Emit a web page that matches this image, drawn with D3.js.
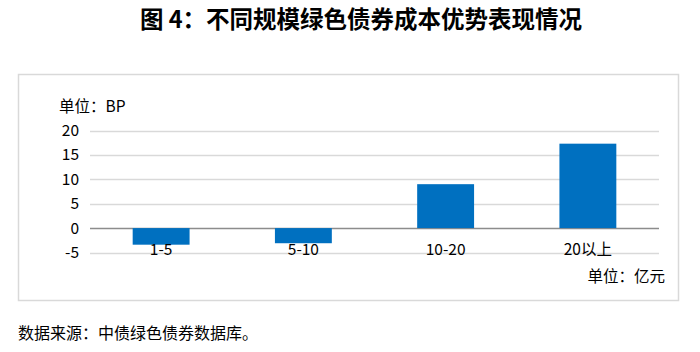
<!DOCTYPE html>
<html>
<head>
<meta charset="utf-8">
<script src="https://cdn.jsdelivr.net/npm/d3@7"></script>
<style>
  body { margin: 0; background: #fff; }
  text { font-family: "Noto Sans CJK SC", "Noto Sans", sans-serif; fill: #000; }
</style>
</head>
<body>
<svg id="chart" width="700" height="352"></svg>
<script>
// chart data
const categories = ["1-5", "5-10", "10-20", "20以上"];
const values = [-3.4, -3.1, 9.0, 17.3];
const yTicks = [-5, 0, 5, 10, 15, 20];

const title = "图 4：不同规模绿色债券成本优势表现情况";
const yUnit = "单位：BP";
const xUnit = "单位：亿元";
const source = "数据来源：中债绿色债券数据库。";

function translate(x, y) {
  return "translate(" + x + "," + y + ")";
}

const svg = d3.select("#chart");

svg.append("text")
  .attr("x", 361)
  .attr("y", 28)
  .attr("text-anchor", "middle")
  .style("font-size", "23.5px")
  .style("font-weight", "bold")
  .text(title);

// outer frame
svg.append("rect")
  .attr("x", 18.5)
  .attr("y", 74.5)
  .attr("width", 660)
  .attr("height", 226)
  .attr("fill", "none")
  .attr("stroke", "#d9d9d9")
  .attr("stroke-width", 1.5);

let left = 90, right = 659;
let y = d3.scaleLinear().domain([-5, 20]).range([252.5, 130.5]);
let x = d3.scaleBand().domain(categories).range([left, right]).paddingInner(0.6).paddingOuter(0.3);

let grid = svg.append("g");
grid.selectAll("line")
  .data(yTicks)
  .enter()
  .append("line")
  .attr("x1", left)
  .attr("x2", right)
  .attr("y1", (d) => Math.round(y(d)) + 0.5)
  .attr("y2", (d) => Math.round(y(d)) + 0.5)
  .attr("stroke", (d) => (d === 0 ? "#8c8c8c" : "#d9d9d9"))
  .attr("stroke-width", 1.3);

let yAxis = svg.append("g")
  .attr("transform", translate(79, 0))
  .call(d3.axisLeft(y).tickValues(yTicks).tickSize(0).tickPadding(0).tickFormat((d) => String(d)));
yAxis.select(".domain").remove();
yAxis.selectAll("text")
  .style("font-size", "15.5px")
  .style("font-family", "\"Noto Sans CJK SC\", sans-serif")
  .attr("fill", "#000");

svg.append("g")
  .selectAll("rect")
  .data(values)
  .enter()
  .append("rect")
  .attr("x", (d, i) => x(categories[i]))
  .attr("width", x.bandwidth())
  .attr("y", (d) => y(Math.max(0, d)))
  .attr("height", (d) => Math.abs(y(d) - y(0)))
  .attr("fill", "#0070c0");

let xAxis = svg.append("g")
  .attr("transform", translate(0, y(0)))
  .call(d3.axisBottom(x).tickSize(0).tickPadding(0));
xAxis.select(".domain").remove();
xAxis.selectAll("text")
  .attr("dy", "27px")
  .style("font-size", "15.5px")
  .style("font-family", "\"Noto Sans CJK SC\", sans-serif")
  .attr("fill", "#000");

svg.append("text")
  .attr("x", 59)
  .attr("y", 112)
  .style("font-size", "15.5px")
  .text(yUnit);

svg.append("text")
  .attr("x", 665)
  .attr("y", 282)
  .attr("text-anchor", "end")
  .style("font-size", "15.5px")
  .text(xUnit);

svg.append("text")
  .attr("x", 18)
  .attr("y", 339)
  .style("font-size", "16px")
  .text(source);
</script>
</body>
</html>
